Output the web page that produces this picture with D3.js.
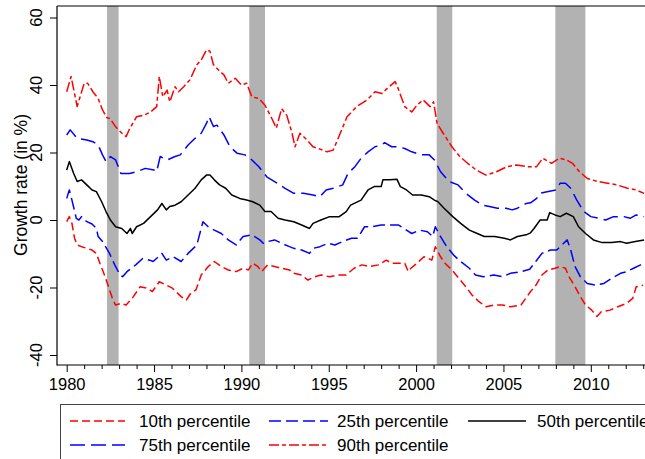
<!DOCTYPE html>
<html>
<head>
<meta charset="utf-8">
<script src="https://cdn.jsdelivr.net/npm/d3@7"></script>
<style>
  body { margin: 0; background: #fff; }
  svg { display: block; font-family: "Liberation Sans", Arial, Helvetica, sans-serif; }
</style>
</head>
<body>
<svg id="chart" width="645" height="459"></svg>
<script>
// Growth-rate percentiles, [year, percent]
const p90 = [[1980.0,38],[1980.25,42.5],[1980.6,33.6],[1981.0,40.5],[1981.2,40.5],[1981.5,38],[1981.8,36],[1982.05,32.6],[1982.3,30.3],[1982.5,30],[1982.8,27.6],[1983.1,26],[1983.4,24.7],[1983.6,27],[1984.0,30.6],[1984.4,31],[1984.8,32],[1985.15,33.6],[1985.3,42.5],[1985.5,36.5],[1985.75,38.5],[1985.9,35],[1986.2,39.5],[1986.4,38],[1986.7,39.5],[1987.05,41.5],[1987.45,46],[1987.7,47.4],[1988.0,50.4],[1988.2,50],[1988.4,46],[1988.7,44.4],[1989.0,43],[1989.25,40.5],[1989.65,42],[1990.0,40],[1990.3,40.5],[1990.6,36.5],[1991.0,36],[1991.35,34],[1991.75,30],[1992.0,27.2],[1992.3,33],[1992.6,31],[1992.9,25.7],[1993.07,21.7],[1993.35,25.7],[1993.7,24],[1994.1,21.7],[1994.5,21],[1994.9,20.2],[1995.25,20.7],[1995.5,23.7],[1996.05,30.6],[1996.6,33.6],[1997.2,35.6],[1997.65,38],[1998.05,37.5],[1998.35,39],[1998.8,41],[1998.97,39],[1999.35,33.6],[1999.75,32],[2000.05,34],[2000.4,35.6],[2000.8,33.6],[2001.0,35],[2001.2,28.6],[2001.55,25.7],[2002.05,21.7],[2002.5,18.8],[2002.95,16.8],[2003.45,14.8],[2004.0,13.3],[2004.6,14.3],[2005.2,15.8],[2005.75,16.3],[2006.35,15.8],[2006.9,15.8],[2007.25,18.3],[2007.75,16.8],[2008.2,18.3],[2008.6,17.8],[2008.95,16.8],[2009.35,14.3],[2009.8,12.3],[2010.4,11.4],[2010.95,10.9],[2011.5,10.4],[2012.1,9.4],[2012.6,8.9],[2013.05,7.9]];

const p75 = [[1980.0,25.2],[1980.2,26.7],[1980.6,24.2],[1981.15,23.7],[1981.5,23.2],[1981.8,22.2],[1982.05,19.3],[1982.25,17.3],[1982.5,18.8],[1982.8,17.8],[1983.1,13.8],[1983.6,13.8],[1984.0,14.3],[1984.5,15.3],[1985.0,14.8],[1985.15,14.3],[1985.35,18.8],[1985.75,17.8],[1986.2,18.8],[1986.5,19.3],[1986.95,22.2],[1987.35,24.2],[1987.7,25.7],[1988.0,28.6],[1988.15,30.6],[1988.4,27.7],[1988.6,28.1],[1989.0,25.2],[1989.35,21.7],[1989.75,19.8],[1990.2,19.3],[1990.6,17.8],[1991.0,15.8],[1991.45,12.8],[1991.9,11.4],[1992.5,9.4],[1993.0,7.9],[1993.55,7.9],[1994.1,7.4],[1994.5,6.9],[1994.85,8.9],[1995.25,9.4],[1995.8,10.4],[1996.1,13.8],[1996.5,15.8],[1996.85,18.3],[1997.25,20.2],[1997.65,21.7],[1998.0,22.2],[1998.2,22.9],[1998.6,21.7],[1998.95,21.7],[1999.35,21.2],[1999.75,20.2],[2000.3,19.3],[2000.75,19.3],[2001.05,17.8],[2001.4,14.3],[2001.9,11.4],[2002.4,10.4],[2002.85,7.9],[2003.35,5.9],[2003.8,4.4],[2004.2,4.0],[2004.65,3.5],[2005.15,3.5],[2005.5,3.0],[2005.8,3.5],[2006.3,4.9],[2006.55,5.1],[2006.9,6.4],[2007.1,7.9],[2007.5,8.4],[2008.0,8.9],[2008.25,10.9],[2008.55,10.9],[2008.85,9.4],[2009.2,5.9],[2009.6,2.5],[2010.0,1.0],[2010.45,0.5],[2010.85,0.0],[2011.3,1.0],[2011.9,1.0],[2012.25,0.5],[2012.6,1.5],[2013.05,1.0]];

const p50 = [[1980.0,14.8],[1980.15,17.3],[1980.4,13.8],[1980.6,11.4],[1980.85,11.9],[1981.15,10.4],[1981.45,8.9],[1981.7,8.4],[1982.0,5.4],[1982.25,2.5],[1982.5,0.0],[1982.8,-2.0],[1983.15,-2.5],[1983.45,-4.0],[1983.65,-2.5],[1983.75,-4.0],[1984.0,-2.0],[1984.4,-1.0],[1984.8,1.0],[1985.2,3.0],[1985.45,4.9],[1985.7,3.0],[1985.9,4.0],[1986.2,4.4],[1986.55,5.4],[1986.95,7.4],[1987.35,9.4],[1987.7,11.9],[1988.0,13.3],[1988.2,13.3],[1988.45,11.9],[1988.75,10.4],[1989.1,9.4],[1989.45,7.4],[1989.9,6.4],[1990.3,5.9],[1990.65,5.4],[1991.05,4.4],[1991.35,2.5],[1991.7,2.5],[1992.1,0.5],[1992.5,0.0],[1993.0,-0.5],[1993.45,-1.5],[1993.9,-2.5],[1994.1,-1.0],[1994.55,0.0],[1995.05,1.0],[1995.6,1.0],[1996.0,2.5],[1996.25,4.4],[1996.85,5.9],[1997.25,8.9],[1997.6,9.9],[1998.0,9.9],[1998.1,11.9],[1998.5,11.9],[1998.9,12.1],[1999.1,9.9],[1999.45,8.9],[1999.8,7.4],[2000.3,7.4],[2000.75,6.9],[2001.05,5.9],[2001.25,5.4],[2001.6,3.5],[2002.1,1.0],[2002.55,-1.0],[2003.05,-3.0],[2003.5,-4.0],[2003.9,-4.9],[2004.5,-4.9],[2005.05,-5.4],[2005.4,-5.9],[2005.8,-4.9],[2006.3,-4.4],[2006.55,-3.8],[2006.75,-2.5],[2007.1,0.0],[2007.5,0.0],[2007.65,2.2],[2007.95,1.5],[2008.25,1.0],[2008.6,2.0],[2009.0,1.0],[2009.3,-2.0],[2009.7,-4.0],[2010.15,-5.9],[2010.65,-6.7],[2011.2,-6.7],[2011.7,-6.4],[2012.05,-6.9],[2012.55,-6.4],[2013.05,-5.9]];

const p25 = [[1980.0,6.4],[1980.15,8.9],[1980.3,5.9],[1980.55,0.5],[1980.7,0.0],[1980.85,1.0],[1981.15,-0.5],[1981.45,-1.2],[1981.7,-2.5],[1981.8,-4.9],[1982.05,-6.4],[1982.45,-9.9],[1982.75,-13.3],[1983.05,-16.3],[1983.2,-16.8],[1983.45,-15.3],[1983.95,-13.3],[1984.35,-11.4],[1984.75,-11.9],[1984.95,-12.3],[1985.45,-9.9],[1985.7,-11.9],[1986.1,-10.9],[1986.55,-12.3],[1986.95,-9.9],[1987.45,-7.4],[1987.8,-0.5],[1988.1,-2.0],[1988.45,-3.0],[1988.85,-4.0],[1989.25,-5.9],[1989.7,-7.4],[1990.1,-4.9],[1990.6,-4.4],[1991.05,-5.9],[1991.25,-6.9],[1991.5,-6.4],[1991.9,-5.9],[1992.3,-6.9],[1992.75,-7.9],[1993.0,-8.4],[1993.45,-8.9],[1993.9,-9.9],[1994.1,-8.4],[1994.5,-7.9],[1994.95,-6.9],[1995.35,-7.4],[1995.8,-6.4],[1996.3,-5.4],[1996.65,-5.4],[1997.05,-2.0],[1997.5,-2.0],[1998.0,-1.5],[1998.65,-1.5],[1999.0,-1.5],[1999.45,-3.0],[1999.75,-4.0],[2000.2,-3.0],[2000.65,-3.5],[2000.95,-4.9],[2001.1,-2.0],[2001.4,-4.9],[2001.75,-7.9],[2002.15,-10.4],[2002.55,-12.3],[2003.05,-14.3],[2003.4,-16.3],[2003.85,-16.8],[2004.45,-16.3],[2004.95,-16.8],[2005.4,-15.8],[2006.0,-15.3],[2006.5,-14.6],[2006.85,-12.3],[2007.2,-9.9],[2007.7,-8.9],[2008.05,-8.9],[2008.35,-7.4],[2008.65,-5.9],[2008.85,-8.9],[2009.1,-13.8],[2009.4,-16.8],[2009.8,-18.8],[2010.25,-19.3],[2010.75,-18.8],[2011.2,-17.3],[2011.7,-15.8],[2012.05,-15.3],[2012.45,-14.3],[2012.85,-13.3],[2013.05,-12.8]];

const p10 = [[1980.0,-0.5],[1980.15,1.0],[1980.3,-1.0],[1980.45,-5.4],[1980.6,-7.4],[1980.85,-7.9],[1981.15,-8.4],[1981.45,-8.9],[1981.7,-9.9],[1981.9,-12.8],[1982.2,-16.8],[1982.45,-20.7],[1982.65,-23.7],[1982.8,-25.2],[1983.1,-24.7],[1983.4,-25.2],[1983.75,-23.2],[1984.2,-19.8],[1984.6,-20.2],[1984.9,-21.2],[1985.3,-18.3],[1985.7,-19.3],[1986.05,-20.2],[1986.55,-22.7],[1986.85,-23.7],[1987.1,-21.7],[1987.4,-20.7],[1987.7,-16.3],[1988.1,-13.8],[1988.45,-12.3],[1988.85,-13.8],[1989.25,-14.8],[1989.7,-15.3],[1990.1,-14.3],[1990.4,-14.8],[1990.65,-12.8],[1990.95,-13.8],[1991.15,-15.3],[1991.5,-13.3],[1991.9,-13.8],[1992.3,-14.3],[1992.75,-14.8],[1993.0,-15.8],[1993.45,-16.3],[1993.8,-17.8],[1994.2,-16.8],[1994.55,-16.3],[1995.05,-16.8],[1995.5,-16.3],[1996.0,-16.3],[1996.45,-14.3],[1996.9,-13.3],[1997.35,-13.8],[1997.85,-13.3],[1998.3,-11.9],[1998.6,-12.8],[1998.95,-12.8],[1999.35,-12.8],[1999.55,-15.3],[1999.7,-14.3],[2000.05,-12.8],[2000.45,-10.9],[2000.7,-11.4],[2000.9,-11.9],[2001.1,-7.9],[2001.4,-10.9],[2001.65,-12.8],[2002.05,-14.8],[2002.45,-17.3],[2002.85,-19.8],[2003.2,-22.2],[2003.6,-24.2],[2004.0,-25.7],[2004.45,-25.2],[2004.95,-25.2],[2005.4,-25.7],[2006.0,-25.2],[2006.35,-22.7],[2006.55,-21.2],[2006.8,-19.8],[2007.2,-16.3],[2007.55,-14.8],[2007.95,-14.3],[2008.25,-13.8],[2008.55,-14.3],[2008.75,-16.8],[2009.1,-19.8],[2009.4,-22.7],[2009.7,-25.2],[2010.05,-26.7],[2010.35,-28.6],[2010.6,-27.2],[2011.1,-26.7],[2011.55,-25.7],[2012.05,-24.7],[2012.4,-23.2],[2012.6,-19.8],[2013.0,-19.3]];

// Recession periods (start, end)
const recessionStart = [1982.31, 1990.45, 2001.18, 2007.97];
const recessionEnd   = [1982.97, 1991.35, 2002.07, 2009.69];

const xMajorTicks = [1980, 1985, 1990, 1995, 2000, 2005, 2010];
const xMinorTicks = d3.range(1980, 2014).filter(v => v % 5 !== 0);
const yTicks = [-40, -20, 0, 20, 40, 60];

const seriesNames = ["10th percentile", "25th percentile", "50th percentile", "75th percentile", "90th percentile"];
const seriesData = [p10, p25, p50, p75, p90];
const seriesColors = ["#ff0000", "#0000ff", "#000000", "#0000ff", "#ff0000"];
const seriesDash = ["8,4", "12,5", null, "15,6", "10,3,4,3"];

// ---- layout ----
const svg = d3.select("#chart");
const plot = { left: 57, top: 6, bottom: 365, right: 700 };

const x = d3.scaleLinear().domain([1980, 2010]).range([66.7, 590.8]);
const y = d3.scaleLinear().domain([-40, 60]).range([355, 17.5]);

svg.append("defs").append("clipPath").attr("id", "plotClip")
  .append("rect")
  .attr("x", plot.left).attr("y", plot.top)
  .attr("width", plot.right - plot.left).attr("height", plot.bottom - plot.top);

const g = svg.append("g").attr("clip-path", "url(#plotClip)");

// recession shading
g.selectAll("rect.rec")
  .data(recessionStart.map((s, i) => [s, recessionEnd[i]]))
  .join("rect")
  .attr("class", "rec")
  .attr("x", d => x(d[0]))
  .attr("width", d => x(d[1]) - x(d[0]))
  .attr("y", plot.top)
  .attr("height", plot.bottom - plot.top)
  .attr("fill", "#b2b2b2");

// percentile lines
const line = d3.line().x(d => x(d[0])).y(d => y(d[1]));
seriesData.forEach((data, i) => {
  g.append("path")
    .datum(data)
    .attr("d", line)
    .attr("fill", "none")
    .attr("stroke", seriesColors[i])
    .attr("stroke-width", 1.5)
    .attr("stroke-linejoin", "round")
    .attr("stroke-dasharray", seriesDash[i]);
});

// frame: left axis, bottom axis, top border
svg.append("line").attr("x1", plot.left).attr("x2", plot.left)
  .attr("y1", plot.top).attr("y2", plot.bottom + 0.5)
  .attr("stroke", "#000").attr("stroke-width", 1.2);
svg.append("line").attr("x1", plot.left).attr("x2", 645)
  .attr("y1", plot.bottom).attr("y2", plot.bottom)
  .attr("stroke", "#000").attr("stroke-width", 1.2);
svg.append("line").attr("x1", plot.left).attr("x2", 645)
  .attr("y1", plot.top).attr("y2", plot.top)
  .attr("stroke", "#000").attr("stroke-width", 1.2);

// x axis (major + minor ticks)
const xAxisMajor = svg.append("g")
  .attr("transform", `translate(0,${plot.bottom})`)
  .call(d3.axisBottom(x).tickValues(xMajorTicks).tickFormat(d3.format("d"))
    .tickSize(7).tickPadding(6));
const xAxisMinor = svg.append("g")
  .attr("transform", `translate(0,${plot.bottom})`)
  .call(d3.axisBottom(x).tickValues(xMinorTicks).tickFormat("").tickSize(4));
[xAxisMajor, xAxisMinor].forEach(a => {
  a.select(".domain").remove();
  a.selectAll("line").attr("stroke", "#000");
});
xAxisMajor.selectAll("text")
  .attr("font-size", 16.5)
  .attr("fill", "#000")
  .attr("font-family", "'Liberation Sans', Arial, sans-serif");

// y axis with vertical tick labels
const yAxis = svg.append("g")
  .attr("transform", `translate(${plot.left},0)`)
  .call(d3.axisLeft(y).tickValues(yTicks).tickSize(7).tickFormat(""));
yAxis.select(".domain").remove();
yAxis.selectAll("line").attr("stroke", "#000");

svg.append("g").selectAll("text")
  .data(yTicks)
  .join("text")
  .attr("transform", d => `translate(41.5,${y(d)}) rotate(-90)`)
  .attr("text-anchor", "middle")
  .attr("font-size", 16.5)
  .attr("fill", "#000")
  .text(d => d);

svg.append("text")
  .attr("transform", `translate(26.5,185) rotate(-90)`)
  .attr("text-anchor", "middle")
  .attr("font-size", 17.5)
  .attr("fill", "#000")
  .text("Growth rate (in %)");

// legend
const legend = svg.append("g");
legend.append("rect")
  .attr("x", 60.5).attr("y", 404.5)
  .attr("width", 700).attr("height", 100)
  .attr("fill", "#fff").attr("stroke", "#444").attr("stroke-width", 1);

const legendPos = [
  { x1: 70, x2: 125, tx: 139, y: 421 },
  { x1: 269, x2: 328, tx: 337, y: 421 },
  { x1: 468, x2: 526, tx: 537, y: 421 },
  { x1: 70, x2: 125, tx: 139, y: 445 },
  { x1: 269, x2: 328, tx: 337, y: 445 }
];
seriesNames.forEach((name, i) => {
  const p = legendPos[i];
  legend.append("line")
    .attr("x1", p.x1).attr("x2", p.x2)
    .attr("y1", p.y).attr("y2", p.y)
    .attr("stroke", seriesColors[i])
    .attr("stroke-width", 1.5)
    .attr("stroke-dasharray", seriesDash[i]);
  legend.append("text")
    .attr("x", p.tx).attr("y", p.y + 6)
    .attr("font-size", 17)
    .attr("fill", "#000")
    .text(name);
});
</script>
</body>
</html>
